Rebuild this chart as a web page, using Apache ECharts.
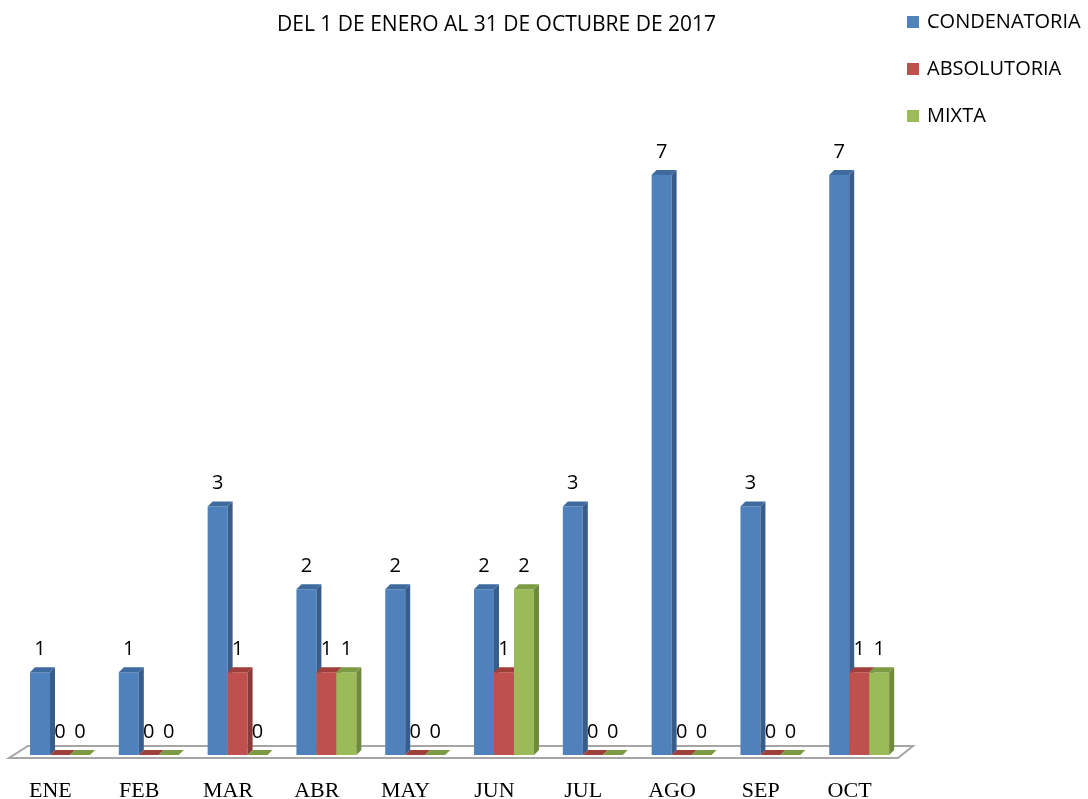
<!DOCTYPE html>
<html><head><meta charset="utf-8">
<script src="https://cdn.jsdelivr.net/npm/echarts@6/dist/echarts.min.js"></script>
<style>html,body{margin:0;padding:0;background:#fff}#c{width:1088px;height:799px}</style>
</head><body><div id="c"></div>
<script>
const categories = ['ENE','FEB','MAR','ABR','MAY','JUN','JUL','AGO','SEP','OCT'];
const condenatoria = [1,1,3,2,2,2,3,7,3,7];
const absolutoria = [0,0,1,1,0,1,0,0,0,1];
const mixta = [0,0,0,1,0,2,0,0,0,1];
const seriesNames = ['CONDENATORIA','ABSOLUTORIA','MIXTA'];
const titleText = 'DEL 1 DE ENERO AL 31 DE OCTUBRE DE 2017';

const palette = [
  {front:'#4f81bd', side:'#385d8a', top:'#3e6a9e'},
  {front:'#c0504d', side:'#8c3a38', top:'#9e3f3c'},
  {front:'#9bbb59', side:'#6f8a3c', top:'#7d9a45'}
];
const D = 5;
function makeRender(si){
  return function(params, api){
    const xi = api.value(0), v = api.value(1);
    const bw = api.size([1,0])[0];
    const barW = bw*0.225;
    const c = api.coord([xi, v]);
    const b = api.coord([xi, 0]);
    const x0 = c[0] - 1.5*barW + si*barW + 0.6;
    const x1 = x0 + barW;
    const yt = c[1], yb = b[1];
    const col = palette[si];
    const children = [];
    if (yb - yt > 0.5) {
      children.push({type:'rect', shape:{x:x0,y:yt,width:barW,height:yb-yt}, style:{fill:col.front}});
      children.push({type:'polygon', shape:{points:[[x1,yt],[x1+D,yt-D],[x1+D,yb-D],[x1,yb]]}, style:{fill:col.side}});
    }
    children.push({type:'polygon', shape:{points:[[x0,yt],[x0+D,yt-D],[x1+D,yt-D],[x1,yt]]}, style:{fill:col.top}});
    children.push({type:'text', style:{text:String(v), x:(x0+x1)/2, y:yt-23, align:'center', verticalAlign:'middle', fill:'#000', font:'20px "Open Sans", sans-serif'}});
    return {type:'group', children};
  };
}
function floorRender(params, api){
  const cs = params.coordSys;
  const yb = cs.y + cs.height;
  return {type:'polygon', shape:{points:[[cs.x-6,yb+3],[cs.x+cs.width-5,yb+3],[cs.x+cs.width+10,yb-9],[cs.x+13,yb-9]]},
    style:{fill:'#fff', stroke:'#a6a6a6', lineWidth:2}};
}
const dataSets = [condenatoria, absolutoria, mixta];
const series = [{type:'custom', name:'floor', renderItem:floorRender, data:[[0,0]], z:1, silent:true, clip:false}];
dataSets.forEach((arr, si)=>{
  series.push({type:'custom', name:seriesNames[si], itemStyle:{color:palette[si].front}, renderItem:makeRender(si),
    data:arr.map((v,i)=>[i,v]), z:2+si, clip:false, encode:{x:0,y:1}});
});
const chart = echarts.init(document.getElementById('c'));
chart.setOption({
  animation:false,
  title:{text:titleText, left:272, top:10, textStyle:{fontFamily:'Open Sans', fontSize:21, fontWeight:'normal', color:'#000'}},
  legend:{data:seriesNames, orient:'vertical', left:902, top:7, itemWidth:12, itemHeight:12, itemGap:27, icon:'rect',
    textStyle:{fontFamily:'Open Sans', fontSize:20, color:'#000', padding:[0,0,0,3]}},
  grid:{left:15, right:185, top:175, bottom:44, outerBoundsMode:'none'},
  xAxis:{type:'category', data:categories, axisLine:{show:false}, axisTick:{show:false},
    axisLabel:{fontFamily:'Liberation Serif', fontSize:22, color:'#000', margin:25, padding:[0,18,0,0]}},
  yAxis:{type:'value', min:0, max:7, show:false, splitLine:{show:false}},
  series
});
</script></body></html>
